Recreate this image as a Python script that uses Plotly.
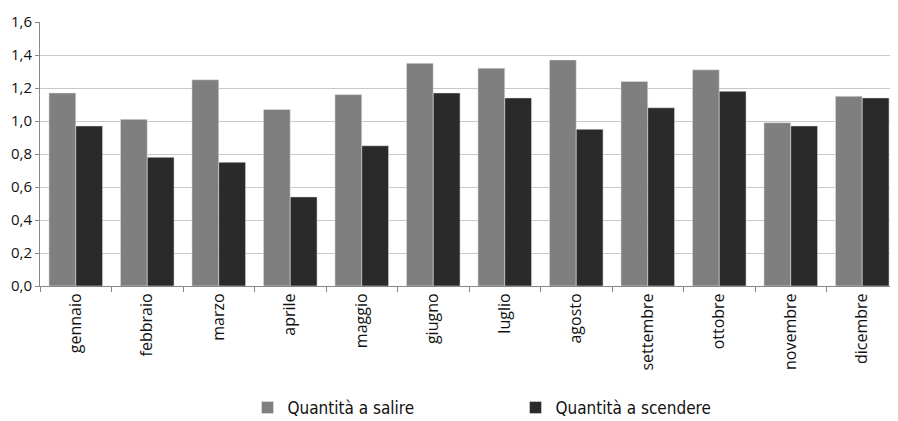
import plotly.graph_objects as go

mesi = ["gennaio", "febbraio", "marzo", "aprile", "maggio", "giugno", "luglio",
        "agosto", "settembre", "ottobre", "novembre", "dicembre"]
salire = [1.17, 1.01, 1.25, 1.07, 1.16, 1.35, 1.32, 1.37, 1.24, 1.31, 0.99, 1.15]
scendere = [0.97, 0.78, 0.75, 0.54, 0.85, 1.17, 1.14, 0.95, 1.08, 1.18, 0.97, 1.14]
y_ticks = [0, 0.2, 0.4, 0.6, 0.8, 1.0, 1.2, 1.4, 1.6]

fig = go.Figure()
fig.add_trace(go.Bar(x=mesi, y=salire, name="Quantità a salire", marker_color="#7f7f7f"))
fig.add_trace(go.Bar(x=mesi, y=scendere, name="Quantità a scendere", marker_color="#2a2a2a"))

fig.update_layout(
    width=890, height=413,
    margin=dict(l=32, r=0, t=14, b=135),
    barmode="group", bargap=0.25, bargroupgap=0,
    plot_bgcolor="white", paper_bgcolor="white",
    separators=",.",
    font=dict(family="Open Sans, DejaVu Sans, sans-serif", size=16, color="#111"),
    showlegend=True,
    legend=dict(orientation="h", xref="container", yref="container",
                x=0.2691, y=0.0315, xanchor="left", yanchor="middle",
                entrywidth=223, entrywidthmode="pixels",
                font=dict(family="Liberation Sans Narrow, DejaVu Sans Condensed, sans-serif", size=17, color="#111")),
)
fig.update_yaxes(range=[0, 1.6], tickvals=y_ticks, tickformat=".1f",
                 showgrid=True, gridcolor="#c8c8c8", gridwidth=1,
                 showline=True, linecolor="#888", ticks="outside", ticklen=4,
                 tickcolor="#888", zeroline=False, tickfont=dict(size=15))
fig.update_xaxes(tickangle=-90, showline=True, linecolor="#888",
                 ticks="outside", tickson="boundaries", ticklen=5, tickcolor="#888",
                 showgrid=False)

fig.write_html("out.html")
